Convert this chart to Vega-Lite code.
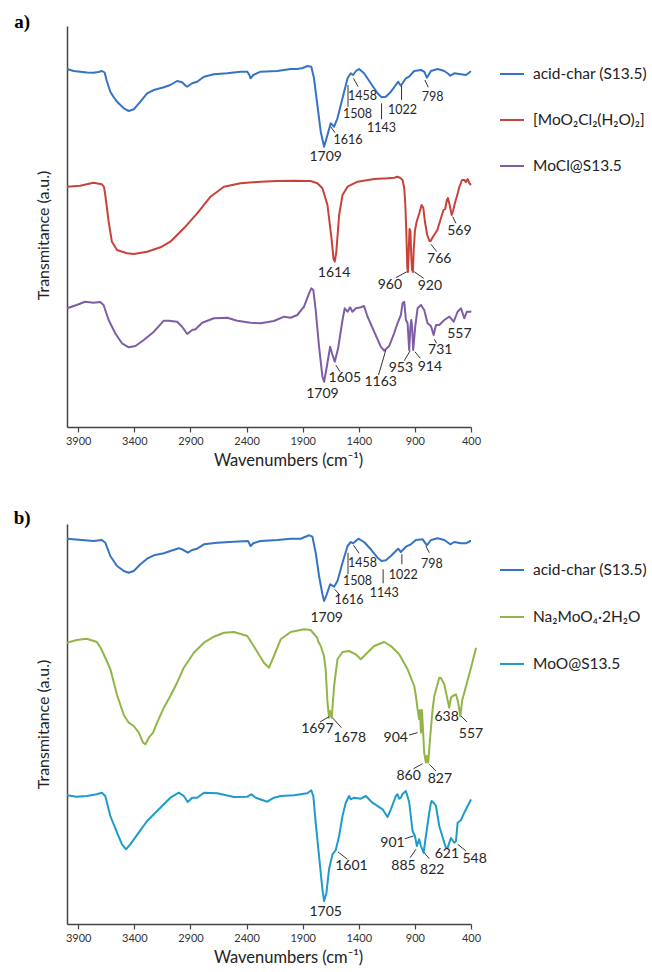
{
  "$schema": "https://vega.github.io/schema/vega-lite/v6.json",
  "padding": {"left": 13, "top": 12, "right": 0, "bottom": 0},
  "background": "white",
  "config": {
    "view": {"stroke": null},
    "font": "Lato",
    "axis": {"grid": false}
  },
  "spacing": 40,
  "resolve": {"scale": {"color": "independent", "x": "independent", "y": "independent"}, "legend": {"color": "independent"}},
  "datasets": {
    "a_curves": [
      {"s":"acid-char (S13.5)","wn":4000,"t":358},{"s":"acid-char (S13.5)","wn":3940,"t":356},{"s":"acid-char (S13.5)","wn":3883,"t":355.3},{"s":"acid-char (S13.5)","wn":3820,"t":354.5},{"s":"acid-char (S13.5)","wn":3764,"t":354.3},{"s":"acid-char (S13.5)","wn":3720,"t":355},{"s":"acid-char (S13.5)","wn":3689,"t":356},{"s":"acid-char (S13.5)","wn":3665,"t":354.5},{"s":"acid-char (S13.5)","wn":3645,"t":346},{"s":"acid-char (S13.5)","wn":3614,"t":335.3},{"s":"acid-char (S13.5)","wn":3585,"t":330},{"s":"acid-char (S13.5)","wn":3554,"t":325.3},{"s":"acid-char (S13.5)","wn":3494,"t":318.7},{"s":"acid-char (S13.5)","wn":3450,"t":316},{"s":"acid-char (S13.5)","wn":3405,"t":317.7},{"s":"acid-char (S13.5)","wn":3346,"t":325.3},{"s":"acid-char (S13.5)","wn":3286,"t":333.7},{"s":"acid-char (S13.5)","wn":3226,"t":337},{"s":"acid-char (S13.5)","wn":3137,"t":339.7},{"s":"acid-char (S13.5)","wn":3079,"t":342},{"s":"acid-char (S13.5)","wn":3019,"t":346},{"s":"acid-char (S13.5)","wn":2974,"t":344.7},{"s":"acid-char (S13.5)","wn":2940,"t":341},{"s":"acid-char (S13.5)","wn":2929,"t":340.3},{"s":"acid-char (S13.5)","wn":2885,"t":343.7},{"s":"acid-char (S13.5)","wn":2840,"t":345.3},{"s":"acid-char (S13.5)","wn":2780,"t":350.3},{"s":"acid-char (S13.5)","wn":2691,"t":352.7},{"s":"acid-char (S13.5)","wn":2572,"t":353.7},{"s":"acid-char (S13.5)","wn":2454,"t":355.3},{"s":"acid-char (S13.5)","wn":2393,"t":355.3},{"s":"acid-char (S13.5)","wn":2375,"t":352},{"s":"acid-char (S13.5)","wn":2364,"t":348.7},{"s":"acid-char (S13.5)","wn":2340,"t":352},{"s":"acid-char (S13.5)","wn":2275,"t":355.3},{"s":"acid-char (S13.5)","wn":2126,"t":356},{"s":"acid-char (S13.5)","wn":2007,"t":358},{"s":"acid-char (S13.5)","wn":1948,"t":358},{"s":"acid-char (S13.5)","wn":1900,"t":359},{"s":"acid-char (S13.5)","wn":1858,"t":361},{"s":"acid-char (S13.5)","wn":1823,"t":360.3},{"s":"acid-char (S13.5)","wn":1799,"t":348.7},{"s":"acid-char (S13.5)","wn":1769,"t":322},{"s":"acid-char (S13.5)","wn":1739,"t":295.3},{"s":"acid-char (S13.5)","wn":1709,"t":280.3},{"s":"acid-char (S13.5)","wn":1679,"t":292},{"s":"acid-char (S13.5)","wn":1650,"t":303.7},{"s":"acid-char (S13.5)","wn":1635,"t":302},{"s":"acid-char (S13.5)","wn":1620,"t":300.3},{"s":"acid-char (S13.5)","wn":1590,"t":308.7},{"s":"acid-char (S13.5)","wn":1545,"t":328.7},{"s":"acid-char (S13.5)","wn":1500,"t":348.7},{"s":"acid-char (S13.5)","wn":1471,"t":353.7},{"s":"acid-char (S13.5)","wn":1451,"t":352},{"s":"acid-char (S13.5)","wn":1425,"t":356},{"s":"acid-char (S13.5)","wn":1397,"t":358},{"s":"acid-char (S13.5)","wn":1353,"t":353.7},{"s":"acid-char (S13.5)","wn":1293,"t":343.7},{"s":"acid-char (S13.5)","wn":1233,"t":333.7},{"s":"acid-char (S13.5)","wn":1197,"t":329.7},{"s":"acid-char (S13.5)","wn":1159,"t":330.3},{"s":"acid-char (S13.5)","wn":1114,"t":335.3},{"s":"acid-char (S13.5)","wn":1070,"t":342},{"s":"acid-char (S13.5)","wn":1049,"t":345.3},{"s":"acid-char (S13.5)","wn":1025,"t":341.3},{"s":"acid-char (S13.5)","wn":980,"t":348.7},{"s":"acid-char (S13.5)","wn":951,"t":350.3},{"s":"acid-char (S13.5)","wn":906,"t":356},{"s":"acid-char (S13.5)","wn":846,"t":357},{"s":"acid-char (S13.5)","wn":817,"t":355.3},{"s":"acid-char (S13.5)","wn":793,"t":349.3},{"s":"acid-char (S13.5)","wn":757,"t":356},{"s":"acid-char (S13.5)","wn":697,"t":358},{"s":"acid-char (S13.5)","wn":638,"t":356},{"s":"acid-char (S13.5)","wn":600,"t":353},{"s":"acid-char (S13.5)","wn":585,"t":351.3},{"s":"acid-char (S13.5)","wn":549,"t":353.7},{"s":"acid-char (S13.5)","wn":489,"t":352.7},{"s":"acid-char (S13.5)","wn":445,"t":352},{"s":"acid-char (S13.5)","wn":406,"t":355.3},{"s":"acid-char (S13.5)","wn":400,"t":355},
      {"s":"[MoO₂Cl₂(H₂O)₂]","wn":4000,"t":240.3},{"s":"[MoO₂Cl₂(H₂O)₂]","wn":3883,"t":241.3},{"s":"[MoO₂Cl₂(H₂O)₂]","wn":3764,"t":244.3},{"s":"[MoO₂Cl₂(H₂O)₂]","wn":3689,"t":242.7},{"s":"[MoO₂Cl₂(H₂O)₂]","wn":3670,"t":240},{"s":"[MoO₂Cl₂(H₂O)₂]","wn":3659,"t":232},{"s":"[MoO₂Cl₂(H₂O)₂]","wn":3645,"t":220},{"s":"[MoO₂Cl₂(H₂O)₂]","wn":3629,"t":205.3},{"s":"[MoO₂Cl₂(H₂O)₂]","wn":3600,"t":185.3},{"s":"[MoO₂Cl₂(H₂O)₂]","wn":3554,"t":177},{"s":"[MoO₂Cl₂(H₂O)₂]","wn":3465,"t":173.7},{"s":"[MoO₂Cl₂(H₂O)₂]","wn":3405,"t":173},{"s":"[MoO₂Cl₂(H₂O)₂]","wn":3286,"t":175.3},{"s":"[MoO₂Cl₂(H₂O)₂]","wn":3167,"t":179.7},{"s":"[MoO₂Cl₂(H₂O)₂]","wn":3079,"t":185.3},{"s":"[MoO₂Cl₂(H₂O)₂]","wn":2959,"t":198.7},{"s":"[MoO₂Cl₂(H₂O)₂]","wn":2840,"t":213.7},{"s":"[MoO₂Cl₂(H₂O)₂]","wn":2721,"t":230.3},{"s":"[MoO₂Cl₂(H₂O)₂]","wn":2602,"t":240.3},{"s":"[MoO₂Cl₂(H₂O)₂]","wn":2454,"t":243.7},{"s":"[MoO₂Cl₂(H₂O)₂]","wn":2275,"t":245.3},{"s":"[MoO₂Cl₂(H₂O)₂]","wn":2126,"t":246},{"s":"[MoO₂Cl₂(H₂O)₂]","wn":1977,"t":246.3},{"s":"[MoO₂Cl₂(H₂O)₂]","wn":1829,"t":246},{"s":"[MoO₂Cl₂(H₂O)₂]","wn":1769,"t":243.7},{"s":"[MoO₂Cl₂(H₂O)₂]","wn":1724,"t":238.7},{"s":"[MoO₂Cl₂(H₂O)₂]","wn":1679,"t":222},{"s":"[MoO₂Cl₂(H₂O)₂]","wn":1643,"t":188.7},{"s":"[MoO₂Cl₂(H₂O)₂]","wn":1625,"t":168},{"s":"[MoO₂Cl₂(H₂O)₂]","wn":1614,"t":165.3},{"s":"[MoO₂Cl₂(H₂O)₂]","wn":1600,"t":175.3},{"s":"[MoO₂Cl₂(H₂O)₂]","wn":1575,"t":212},{"s":"[MoO₂Cl₂(H₂O)₂]","wn":1545,"t":232},{"s":"[MoO₂Cl₂(H₂O)₂]","wn":1500,"t":240.3},{"s":"[MoO₂Cl₂(H₂O)₂]","wn":1411,"t":245.3},{"s":"[MoO₂Cl₂(H₂O)₂]","wn":1263,"t":248},{"s":"[MoO₂Cl₂(H₂O)₂]","wn":1144,"t":248.7},{"s":"[MoO₂Cl₂(H₂O)₂]","wn":1084,"t":249.3},{"s":"[MoO₂Cl₂(H₂O)₂]","wn":1055,"t":250.3},{"s":"[MoO₂Cl₂(H₂O)₂]","wn":1030,"t":249},{"s":"[MoO₂Cl₂(H₂O)₂]","wn":1010,"t":247},{"s":"[MoO₂Cl₂(H₂O)₂]","wn":995,"t":239},{"s":"[MoO₂Cl₂(H₂O)₂]","wn":985,"t":222},{"s":"[MoO₂Cl₂(H₂O)₂]","wn":975,"t":190},{"s":"[MoO₂Cl₂(H₂O)₂]","wn":968,"t":160},{"s":"[MoO₂Cl₂(H₂O)₂]","wn":962,"t":155},{"s":"[MoO₂Cl₂(H₂O)₂]","wn":955,"t":175},{"s":"[MoO₂Cl₂(H₂O)₂]","wn":948,"t":198},{"s":"[MoO₂Cl₂(H₂O)₂]","wn":940,"t":196},{"s":"[MoO₂Cl₂(H₂O)₂]","wn":932,"t":170},{"s":"[MoO₂Cl₂(H₂O)₂]","wn":925,"t":157},{"s":"[MoO₂Cl₂(H₂O)₂]","wn":918,"t":155},{"s":"[MoO₂Cl₂(H₂O)₂]","wn":910,"t":178},{"s":"[MoO₂Cl₂(H₂O)₂]","wn":900,"t":196},{"s":"[MoO₂Cl₂(H₂O)₂]","wn":885,"t":205},{"s":"[MoO₂Cl₂(H₂O)₂]","wn":860,"t":214},{"s":"[MoO₂Cl₂(H₂O)₂]","wn":840,"t":222},{"s":"[MoO₂Cl₂(H₂O)₂]","wn":825,"t":219},{"s":"[MoO₂Cl₂(H₂O)₂]","wn":810,"t":205},{"s":"[MoO₂Cl₂(H₂O)₂]","wn":790,"t":192},{"s":"[MoO₂Cl₂(H₂O)₂]","wn":770,"t":186},{"s":"[MoO₂Cl₂(H₂O)₂]","wn":760,"t":186},{"s":"[MoO₂Cl₂(H₂O)₂]","wn":740,"t":190},{"s":"[MoO₂Cl₂(H₂O)₂]","wn":700,"t":197},{"s":"[MoO₂Cl₂(H₂O)₂]","wn":670,"t":208},{"s":"[MoO₂Cl₂(H₂O)₂]","wn":645,"t":217},{"s":"[MoO₂Cl₂(H₂O)₂]","wn":630,"t":218},{"s":"[MoO₂Cl₂(H₂O)₂]","wn":615,"t":227},{"s":"[MoO₂Cl₂(H₂O)₂]","wn":605,"t":229},{"s":"[MoO₂Cl₂(H₂O)₂]","wn":590,"t":222},{"s":"[MoO₂Cl₂(H₂O)₂]","wn":572,"t":212},{"s":"[MoO₂Cl₂(H₂O)₂]","wn":560,"t":216},{"s":"[MoO₂Cl₂(H₂O)₂]","wn":543,"t":224},{"s":"[MoO₂Cl₂(H₂O)₂]","wn":520,"t":233},{"s":"[MoO₂Cl₂(H₂O)₂]","wn":504,"t":240},{"s":"[MoO₂Cl₂(H₂O)₂]","wn":480,"t":247},{"s":"[MoO₂Cl₂(H₂O)₂]","wn":460,"t":247},{"s":"[MoO₂Cl₂(H₂O)₂]","wn":445,"t":245},{"s":"[MoO₂Cl₂(H₂O)₂]","wn":430,"t":248},{"s":"[MoO₂Cl₂(H₂O)₂]","wn":415,"t":244},{"s":"[MoO₂Cl₂(H₂O)₂]","wn":400,"t":242},
      {"s":"MoCl@S13.5","wn":4000,"t":118.7},{"s":"MoCl@S13.5","wn":3914,"t":122},{"s":"MoCl@S13.5","wn":3839,"t":125.3},{"s":"MoCl@S13.5","wn":3764,"t":124.3},{"s":"MoCl@S13.5","wn":3704,"t":125},{"s":"MoCl@S13.5","wn":3674,"t":122},{"s":"MoCl@S13.5","wn":3629,"t":107},{"s":"MoCl@S13.5","wn":3570,"t":93.7},{"s":"MoCl@S13.5","wn":3510,"t":83.7},{"s":"MoCl@S13.5","wn":3450,"t":79.7},{"s":"MoCl@S13.5","wn":3390,"t":81},{"s":"MoCl@S13.5","wn":3316,"t":87},{"s":"MoCl@S13.5","wn":3226,"t":95.3},{"s":"MoCl@S13.5","wn":3137,"t":106.3},{"s":"MoCl@S13.5","wn":3092,"t":106.3},{"s":"MoCl@S13.5","wn":3019,"t":105.3},{"s":"MoCl@S13.5","wn":2974,"t":100.3},{"s":"MoCl@S13.5","wn":2929,"t":93},{"s":"MoCl@S13.5","wn":2885,"t":97},{"s":"MoCl@S13.5","wn":2855,"t":97.7},{"s":"MoCl@S13.5","wn":2795,"t":104.3},{"s":"MoCl@S13.5","wn":2691,"t":108.7},{"s":"MoCl@S13.5","wn":2572,"t":109.3},{"s":"MoCl@S13.5","wn":2483,"t":106.3},{"s":"MoCl@S13.5","wn":2364,"t":104.3},{"s":"MoCl@S13.5","wn":2275,"t":103.7},{"s":"MoCl@S13.5","wn":2156,"t":106},{"s":"MoCl@S13.5","wn":2066,"t":110.3},{"s":"MoCl@S13.5","wn":2007,"t":109.3},{"s":"MoCl@S13.5","wn":1948,"t":112},{"s":"MoCl@S13.5","wn":1888,"t":120.3},{"s":"MoCl@S13.5","wn":1843,"t":133.7},{"s":"MoCl@S13.5","wn":1823,"t":138.7},{"s":"MoCl@S13.5","wn":1805,"t":137},{"s":"MoCl@S13.5","wn":1784,"t":117},{"s":"MoCl@S13.5","wn":1754,"t":80.3},{"s":"MoCl@S13.5","wn":1724,"t":50.3},{"s":"MoCl@S13.5","wn":1709,"t":45.3},{"s":"MoCl@S13.5","wn":1685,"t":60.3},{"s":"MoCl@S13.5","wn":1655,"t":80.3},{"s":"MoCl@S13.5","wn":1634,"t":72},{"s":"MoCl@S13.5","wn":1614,"t":65.3},{"s":"MoCl@S13.5","wn":1584,"t":78.7},{"s":"MoCl@S13.5","wn":1545,"t":107},{"s":"MoCl@S13.5","wn":1525,"t":118.7},{"s":"MoCl@S13.5","wn":1500,"t":115.3},{"s":"MoCl@S13.5","wn":1477,"t":119.7},{"s":"MoCl@S13.5","wn":1456,"t":115.3},{"s":"MoCl@S13.5","wn":1426,"t":118.7},{"s":"MoCl@S13.5","wn":1382,"t":119.7},{"s":"MoCl@S13.5","wn":1353,"t":121},{"s":"MoCl@S13.5","wn":1322,"t":110.3},{"s":"MoCl@S13.5","wn":1263,"t":95.3},{"s":"MoCl@S13.5","wn":1204,"t":80.3},{"s":"MoCl@S13.5","wn":1174,"t":76.3},{"s":"MoCl@S13.5","wn":1129,"t":81},{"s":"MoCl@S13.5","wn":1085,"t":93.7},{"s":"MoCl@S13.5","wn":1055,"t":103.7},{"s":"MoCl@S13.5","wn":1025,"t":112},{"s":"MoCl@S13.5","wn":1010,"t":123.7},{"s":"MoCl@S13.5","wn":995,"t":125.3},{"s":"MoCl@S13.5","wn":980,"t":107},{"s":"MoCl@S13.5","wn":965,"t":103.7},{"s":"MoCl@S13.5","wn":951,"t":77},{"s":"MoCl@S13.5","wn":940,"t":100},{"s":"MoCl@S13.5","wn":932,"t":107},{"s":"MoCl@S13.5","wn":925,"t":100},{"s":"MoCl@S13.5","wn":915,"t":77},{"s":"MoCl@S13.5","wn":897,"t":100.3},{"s":"MoCl@S13.5","wn":876,"t":118.7},{"s":"MoCl@S13.5","wn":846,"t":122},{"s":"MoCl@S13.5","wn":817,"t":117},{"s":"MoCl@S13.5","wn":787,"t":103.7},{"s":"MoCl@S13.5","wn":757,"t":101},{"s":"MoCl@S13.5","wn":733,"t":92},{"s":"MoCl@S13.5","wn":712,"t":102},{"s":"MoCl@S13.5","wn":683,"t":102},{"s":"MoCl@S13.5","wn":638,"t":107},{"s":"MoCl@S13.5","wn":593,"t":110.3},{"s":"MoCl@S13.5","wn":554,"t":105.3},{"s":"MoCl@S13.5","wn":519,"t":115.3},{"s":"MoCl@S13.5","wn":489,"t":118.7},{"s":"MoCl@S13.5","wn":460,"t":108.7},{"s":"MoCl@S13.5","wn":436,"t":115.3},{"s":"MoCl@S13.5","wn":406,"t":115.3},{"s":"MoCl@S13.5","wn":400,"t":116}
    ],
    "a_labels": [
      {"s":"acid-char (S13.5)","label":"1709","wn":1695,"t":270.3},
      {"s":"acid-char (S13.5)","label":"1616","wn":1496,"t":287},
      {"s":"acid-char (S13.5)","label":"1508","wn":1412,"t":312.7},
      {"s":"acid-char (S13.5)","label":"1458","wn":1367,"t":331.3},
      {"s":"acid-char (S13.5)","label":"1143","wn":1197,"t":298.7},
      {"s":"acid-char (S13.5)","label":"1022","wn":1010,"t":317},
      {"s":"acid-char (S13.5)","label":"798","wn":742,"t":330.3},
      {"s":"[MoO₂Cl₂(H₂O)₂]","label":"1614","wn":1620,"t":153.7},
      {"s":"[MoO₂Cl₂(H₂O)₂]","label":"960","wn":1123,"t":142},
      {"s":"[MoO₂Cl₂(H₂O)₂]","label":"920","wn":766,"t":141},
      {"s":"[MoO₂Cl₂(H₂O)₂]","label":"766","wn":683,"t":167.7},
      {"s":"[MoO₂Cl₂(H₂O)₂]","label":"569","wn":504,"t":196},
      {"s":"MoCl@S13.5","label":"1605","wn":1525,"t":49.3},
      {"s":"MoCl@S13.5","label":"1709","wn":1724,"t":32.7},
      {"s":"MoCl@S13.5","label":"1163","wn":1205,"t":45.3},
      {"s":"MoCl@S13.5","label":"953","wn":1025,"t":58.7},
      {"s":"MoCl@S13.5","label":"914","wn":766,"t":60.3},
      {"s":"MoCl@S13.5","label":"731","wn":674,"t":77},
      {"s":"MoCl@S13.5","label":"557","wn":504,"t":93}
    ],
    "a_leaders": [
      {"wn":1612,"t":294.3,"wn2":1650,"t2":300.3},
      {"wn":1496,"t":342,"wn2":1496,"t2":320.3},
      {"wn":1447,"t":348.7,"wn2":1406,"t2":340.3},
      {"wn":1197,"t":323.7,"wn2":1197,"t2":307.7},
      {"wn":1019,"t":341,"wn2":1019,"t2":327},
      {"wn":811,"t":347,"wn2":781,"t2":339.7},
      {"wn":1070,"t":149.3,"wn2":971,"t2":155.3},
      {"wn":906,"t":155.3,"wn2":822,"t2":148.7},
      {"wn":757,"t":182.7,"wn2":704,"t2":175.3},
      {"wn":563,"t":210.3,"wn2":534,"t2":203.7},
      {"wn":1605,"t":62,"wn2":1567,"t2":55.3},
      {"wn":1224,"t":52,"wn2":1159,"t2":77},
      {"wn":995,"t":66.3,"wn2":942,"t2":76.3},
      {"wn":900,"t":75.3,"wn2":852,"t2":68.7},
      {"wn":727,"t":87.7,"wn2":706,"t2":83.7}
    ],
    "b_curves": [
      {"s":"acid-char (S13.5)","wn":4000,"t":385.3},{"s":"acid-char (S13.5)","wn":3764,"t":383},{"s":"acid-char (S13.5)","wn":3689,"t":384},{"s":"acid-char (S13.5)","wn":3659,"t":381.3},{"s":"acid-char (S13.5)","wn":3614,"t":368},{"s":"acid-char (S13.5)","wn":3554,"t":358},{"s":"acid-char (S13.5)","wn":3494,"t":353},{"s":"acid-char (S13.5)","wn":3450,"t":351.3},{"s":"acid-char (S13.5)","wn":3405,"t":353},{"s":"acid-char (S13.5)","wn":3346,"t":359.7},{"s":"acid-char (S13.5)","wn":3286,"t":365.3},{"s":"acid-char (S13.5)","wn":3226,"t":368.7},{"s":"acid-char (S13.5)","wn":3137,"t":370.7},{"s":"acid-char (S13.5)","wn":3079,"t":373},{"s":"acid-char (S13.5)","wn":3004,"t":375.7},{"s":"acid-char (S13.5)","wn":2974,"t":374.7},{"s":"acid-char (S13.5)","wn":2923,"t":371.3},{"s":"acid-char (S13.5)","wn":2885,"t":374},{"s":"acid-char (S13.5)","wn":2840,"t":375.3},{"s":"acid-char (S13.5)","wn":2780,"t":379.7},{"s":"acid-char (S13.5)","wn":2661,"t":381.3},{"s":"acid-char (S13.5)","wn":2513,"t":382.3},{"s":"acid-char (S13.5)","wn":2387,"t":383},{"s":"acid-char (S13.5)","wn":2364,"t":378},{"s":"acid-char (S13.5)","wn":2340,"t":380.7},{"s":"acid-char (S13.5)","wn":2275,"t":383},{"s":"acid-char (S13.5)","wn":2126,"t":384},{"s":"acid-char (S13.5)","wn":2007,"t":385.3},{"s":"acid-char (S13.5)","wn":1918,"t":385.3},{"s":"acid-char (S13.5)","wn":1843,"t":388.7},{"s":"acid-char (S13.5)","wn":1813,"t":387.3},{"s":"acid-char (S13.5)","wn":1784,"t":371.3},{"s":"acid-char (S13.5)","wn":1754,"t":348},{"s":"acid-char (S13.5)","wn":1724,"t":329.7},{"s":"acid-char (S13.5)","wn":1709,"t":323},{"s":"acid-char (S13.5)","wn":1685,"t":329.7},{"s":"acid-char (S13.5)","wn":1655,"t":339.7},{"s":"acid-char (S13.5)","wn":1620,"t":337.3},{"s":"acid-char (S13.5)","wn":1590,"t":343},{"s":"acid-char (S13.5)","wn":1545,"t":361.3},{"s":"acid-char (S13.5)","wn":1500,"t":378},{"s":"acid-char (S13.5)","wn":1471,"t":382},{"s":"acid-char (S13.5)","wn":1451,"t":380.7},{"s":"acid-char (S13.5)","wn":1403,"t":385.3},{"s":"acid-char (S13.5)","wn":1353,"t":382},{"s":"acid-char (S13.5)","wn":1293,"t":374.7},{"s":"acid-char (S13.5)","wn":1233,"t":366.3},{"s":"acid-char (S13.5)","wn":1197,"t":363},{"s":"acid-char (S13.5)","wn":1159,"t":363.7},{"s":"acid-char (S13.5)","wn":1114,"t":368},{"s":"acid-char (S13.5)","wn":1070,"t":373},{"s":"acid-char (S13.5)","wn":1049,"t":375.3},{"s":"acid-char (S13.5)","wn":1025,"t":372},{"s":"acid-char (S13.5)","wn":980,"t":377.3},{"s":"acid-char (S13.5)","wn":936,"t":379.7},{"s":"acid-char (S13.5)","wn":891,"t":384},{"s":"acid-char (S13.5)","wn":831,"t":384.7},{"s":"acid-char (S13.5)","wn":793,"t":378.7},{"s":"acid-char (S13.5)","wn":757,"t":384},{"s":"acid-char (S13.5)","wn":697,"t":385.7},{"s":"acid-char (S13.5)","wn":638,"t":384},{"s":"acid-char (S13.5)","wn":585,"t":379.7},{"s":"acid-char (S13.5)","wn":549,"t":382},{"s":"acid-char (S13.5)","wn":489,"t":380.7},{"s":"acid-char (S13.5)","wn":445,"t":380.7},{"s":"acid-char (S13.5)","wn":406,"t":383},{"s":"acid-char (S13.5)","wn":400,"t":383},
      {"s":"Na₂MoO₄·2H₂O","wn":4000,"t":281.3},{"s":"Na₂MoO₄·2H₂O","wn":3914,"t":284},{"s":"Na₂MoO₄·2H₂O","wn":3824,"t":285.3},{"s":"Na₂MoO₄·2H₂O","wn":3734,"t":282},{"s":"Na₂MoO₄·2H₂O","wn":3700,"t":276},{"s":"Na₂MoO₄·2H₂O","wn":3674,"t":270},{"s":"Na₂MoO₄·2H₂O","wn":3614,"t":255},{"s":"Na₂MoO₄·2H₂O","wn":3554,"t":229},{"s":"Na₂MoO₄·2H₂O","wn":3494,"t":209},{"s":"Na₂MoO₄·2H₂O","wn":3450,"t":201.3},{"s":"Na₂MoO₄·2H₂O","wn":3405,"t":198},{"s":"Na₂MoO₄·2H₂O","wn":3360,"t":191.3},{"s":"Na₂MoO₄·2H₂O","wn":3322,"t":181.3},{"s":"Na₂MoO₄·2H₂O","wn":3301,"t":179.7},{"s":"Na₂MoO₄·2H₂O","wn":3271,"t":186.3},{"s":"Na₂MoO₄·2H₂O","wn":3233,"t":191.3},{"s":"Na₂MoO₄·2H₂O","wn":3197,"t":201.3},{"s":"Na₂MoO₄·2H₂O","wn":3137,"t":216.3},{"s":"Na₂MoO₄·2H₂O","wn":3079,"t":228},{"s":"Na₂MoO₄·2H₂O","wn":3019,"t":241.3},{"s":"Na₂MoO₄·2H₂O","wn":2959,"t":256.3},{"s":"Na₂MoO₄·2H₂O","wn":2870,"t":271.3},{"s":"Na₂MoO₄·2H₂O","wn":2780,"t":281.3},{"s":"Na₂MoO₄·2H₂O","wn":2691,"t":287.3},{"s":"Na₂MoO₄·2H₂O","wn":2602,"t":291.3},{"s":"Na₂MoO₄·2H₂O","wn":2513,"t":292},{"s":"Na₂MoO₄·2H₂O","wn":2393,"t":288},{"s":"Na₂MoO₄·2H₂O","wn":2319,"t":274.7},{"s":"Na₂MoO₄·2H₂O","wn":2245,"t":261.3},{"s":"Na₂MoO₄·2H₂O","wn":2200,"t":256.3},{"s":"Na₂MoO₄·2H₂O","wn":2156,"t":268},{"s":"Na₂MoO₄·2H₂O","wn":2096,"t":284.7},{"s":"Na₂MoO₄·2H₂O","wn":2007,"t":292},{"s":"Na₂MoO₄·2H₂O","wn":1888,"t":294.7},{"s":"Na₂MoO₄·2H₂O","wn":1829,"t":294},{"s":"Na₂MoO₄·2H₂O","wn":1784,"t":288},{"s":"Na₂MoO₄·2H₂O","wn":1769,"t":286},{"s":"Na₂MoO₄·2H₂O","wn":1763,"t":283},{"s":"Na₂MoO₄·2H₂O","wn":1739,"t":278},{"s":"Na₂MoO₄·2H₂O","wn":1710,"t":268},{"s":"Na₂MoO₄·2H₂O","wn":1695,"t":254.7},{"s":"Na₂MoO₄·2H₂O","wn":1679,"t":222},{"s":"Na₂MoO₄·2H₂O","wn":1665,"t":206.3},{"s":"Na₂MoO₄·2H₂O","wn":1656,"t":213},{"s":"Na₂MoO₄·2H₂O","wn":1641,"t":206.3},{"s":"Na₂MoO₄·2H₂O","wn":1620,"t":238},{"s":"Na₂MoO₄·2H₂O","wn":1590,"t":264.7},{"s":"Na₂MoO₄·2H₂O","wn":1545,"t":272},{"s":"Na₂MoO₄·2H₂O","wn":1487,"t":273},{"s":"Na₂MoO₄·2H₂O","wn":1427,"t":269.7},{"s":"Na₂MoO₄·2H₂O","wn":1382,"t":264.7},{"s":"Na₂MoO₄·2H₂O","wn":1337,"t":269.7},{"s":"Na₂MoO₄·2H₂O","wn":1263,"t":278},{"s":"Na₂MoO₄·2H₂O","wn":1174,"t":282},{"s":"Na₂MoO₄·2H₂O","wn":1114,"t":278},{"s":"Na₂MoO₄·2H₂O","wn":1040,"t":269.7},{"s":"Na₂MoO₄·2H₂O","wn":965,"t":254.7},{"s":"Na₂MoO₄·2H₂O","wn":906,"t":238},{"s":"Na₂MoO₄·2H₂O","wn":891,"t":228},{"s":"Na₂MoO₄·2H₂O","wn":876,"t":215},{"s":"Na₂MoO₄·2H₂O","wn":862,"t":205},{"s":"Na₂MoO₄·2H₂O","wn":855,"t":214},{"s":"Na₂MoO₄·2H₂O","wn":846,"t":191.3},{"s":"Na₂MoO₄·2H₂O","wn":837,"t":214},{"s":"Na₂MoO₄·2H₂O","wn":817,"t":171.3},{"s":"Na₂MoO₄·2H₂O","wn":802,"t":161.3},{"s":"Na₂MoO₄·2H₂O","wn":793,"t":168},{"s":"Na₂MoO₄·2H₂O","wn":781,"t":161.3},{"s":"Na₂MoO₄·2H₂O","wn":763,"t":188},{"s":"Na₂MoO₄·2H₂O","wn":742,"t":214.7},{"s":"Na₂MoO₄·2H₂O","wn":727,"t":228},{"s":"Na₂MoO₄·2H₂O","wn":683,"t":246.3},{"s":"Na₂MoO₄·2H₂O","wn":668,"t":246},{"s":"Na₂MoO₄·2H₂O","wn":638,"t":239.7},{"s":"Na₂MoO₄·2H₂O","wn":620,"t":230},{"s":"Na₂MoO₄·2H₂O","wn":594,"t":216.3},{"s":"Na₂MoO₄·2H₂O","wn":579,"t":226},{"s":"Na₂MoO₄·2H₂O","wn":563,"t":228},{"s":"Na₂MoO₄·2H₂O","wn":534,"t":229.7},{"s":"Na₂MoO₄·2H₂O","wn":515,"t":222},{"s":"Na₂MoO₄·2H₂O","wn":495,"t":208},{"s":"Na₂MoO₄·2H₂O","wn":478,"t":224},{"s":"Na₂MoO₄·2H₂O","wn":460,"t":231.3},{"s":"Na₂MoO₄·2H₂O","wn":430,"t":244},{"s":"Na₂MoO₄·2H₂O","wn":400,"t":256.3},{"s":"Na₂MoO₄·2H₂O","wn":355,"t":276.3},
      {"s":"MoO@S13.5","wn":4000,"t":128.7},{"s":"MoO@S13.5","wn":3914,"t":127.3},{"s":"MoO@S13.5","wn":3824,"t":128},{"s":"MoO@S13.5","wn":3734,"t":129.7},{"s":"MoO@S13.5","wn":3689,"t":131.3},{"s":"MoO@S13.5","wn":3659,"t":128},{"s":"MoO@S13.5","wn":3614,"t":108},{"s":"MoO@S13.5","wn":3554,"t":91.3},{"s":"MoO@S13.5","wn":3510,"t":79.7},{"s":"MoO@S13.5","wn":3474,"t":74.7},{"s":"MoO@S13.5","wn":3436,"t":79.7},{"s":"MoO@S13.5","wn":3361,"t":91.3},{"s":"MoO@S13.5","wn":3286,"t":103},{"s":"MoO@S13.5","wn":3257,"t":106.3},{"s":"MoO@S13.5","wn":3168,"t":116.3},{"s":"MoO@S13.5","wn":3079,"t":126.3},{"s":"MoO@S13.5","wn":3004,"t":131.3},{"s":"MoO@S13.5","wn":2959,"t":128},{"s":"MoO@S13.5","wn":2924,"t":122},{"s":"MoO@S13.5","wn":2885,"t":126.3},{"s":"MoO@S13.5","wn":2840,"t":126.3},{"s":"MoO@S13.5","wn":2780,"t":131.3},{"s":"MoO@S13.5","wn":2661,"t":130.7},{"s":"MoO@S13.5","wn":2513,"t":127},{"s":"MoO@S13.5","wn":2393,"t":127.3},{"s":"MoO@S13.5","wn":2358,"t":129.7},{"s":"MoO@S13.5","wn":2319,"t":126.3},{"s":"MoO@S13.5","wn":2215,"t":122.3},{"s":"MoO@S13.5","wn":2156,"t":126.3},{"s":"MoO@S13.5","wn":2096,"t":128},{"s":"MoO@S13.5","wn":1977,"t":128.7},{"s":"MoO@S13.5","wn":1858,"t":130.7},{"s":"MoO@S13.5","wn":1823,"t":133.7},{"s":"MoO@S13.5","wn":1805,"t":128},{"s":"MoO@S13.5","wn":1784,"t":101.3},{"s":"MoO@S13.5","wn":1754,"t":68},{"s":"MoO@S13.5","wn":1724,"t":34.7},{"s":"MoO@S13.5","wn":1709,"t":23},{"s":"MoO@S13.5","wn":1688,"t":31.3},{"s":"MoO@S13.5","wn":1665,"t":54.7},{"s":"MoO@S13.5","wn":1634,"t":69.7},{"s":"MoO@S13.5","wn":1605,"t":74},{"s":"MoO@S13.5","wn":1575,"t":88},{"s":"MoO@S13.5","wn":1545,"t":108},{"s":"MoO@S13.5","wn":1516,"t":121.3},{"s":"MoO@S13.5","wn":1486,"t":128},{"s":"MoO@S13.5","wn":1471,"t":124.7},{"s":"MoO@S13.5","wn":1441,"t":126.3},{"s":"MoO@S13.5","wn":1382,"t":125.3},{"s":"MoO@S13.5","wn":1337,"t":128},{"s":"MoO@S13.5","wn":1278,"t":121.3},{"s":"MoO@S13.5","wn":1188,"t":114.7},{"s":"MoO@S13.5","wn":1144,"t":107},{"s":"MoO@S13.5","wn":1114,"t":114.7},{"s":"MoO@S13.5","wn":1070,"t":128},{"s":"MoO@S13.5","wn":1055,"t":129.7},{"s":"MoO@S13.5","wn":1040,"t":125.3},{"s":"MoO@S13.5","wn":1025,"t":126.3},{"s":"MoO@S13.5","wn":1010,"t":130},{"s":"MoO@S13.5","wn":980,"t":133},{"s":"MoO@S13.5","wn":951,"t":122},{"s":"MoO@S13.5","wn":921,"t":93},{"s":"MoO@S13.5","wn":900,"t":88},{"s":"MoO@S13.5","wn":882,"t":78},{"s":"MoO@S13.5","wn":862,"t":84.7},{"s":"MoO@S13.5","wn":846,"t":78},{"s":"MoO@S13.5","wn":822,"t":71.3},{"s":"MoO@S13.5","wn":802,"t":88},{"s":"MoO@S13.5","wn":772,"t":111.3},{"s":"MoO@S13.5","wn":757,"t":121.3},{"s":"MoO@S13.5","wn":751,"t":123},{"s":"MoO@S13.5","wn":733,"t":121.3},{"s":"MoO@S13.5","wn":712,"t":118},{"s":"MoO@S13.5","wn":683,"t":98},{"s":"MoO@S13.5","wn":638,"t":81.3},{"s":"MoO@S13.5","wn":623,"t":76.3},{"s":"MoO@S13.5","wn":608,"t":76.3},{"s":"MoO@S13.5","wn":579,"t":86},{"s":"MoO@S13.5","wn":549,"t":81.3},{"s":"MoO@S13.5","wn":534,"t":83},{"s":"MoO@S13.5","wn":519,"t":101.3},{"s":"MoO@S13.5","wn":489,"t":104},{"s":"MoO@S13.5","wn":460,"t":111.3},{"s":"MoO@S13.5","wn":430,"t":118},{"s":"MoO@S13.5","wn":406,"t":123},{"s":"MoO@S13.5","wn":400,"t":124.7}
    ],
    "b_labels": [
      {"s":"acid-char (S13.5)","label":"1709","wn":1686,"t":306.3},
      {"s":"acid-char (S13.5)","label":"1616","wn":1487,"t":323.7},
      {"s":"acid-char (S13.5)","label":"1508","wn":1412,"t":343},
      {"s":"acid-char (S13.5)","label":"1458","wn":1367,"t":361.3},
      {"s":"acid-char (S13.5)","label":"1143","wn":1174,"t":331.3},
      {"s":"acid-char (S13.5)","label":"1022","wn":1004,"t":349},
      {"s":"acid-char (S13.5)","label":"798","wn":748,"t":360.3},
      {"s":"Na₂MoO₄·2H₂O","label":"1697","wn":1769,"t":195.3},
      {"s":"Na₂MoO₄·2H₂O","label":"1678","wn":1480,"t":185.7},
      {"s":"Na₂MoO₄·2H₂O","label":"904","wn":1070,"t":185.7},
      {"s":"Na₂MoO₄·2H₂O","label":"860","wn":956,"t":148},
      {"s":"Na₂MoO₄·2H₂O","label":"827","wn":677,"t":144.7},
      {"s":"Na₂MoO₄·2H₂O","label":"638","wn":617,"t":207},
      {"s":"Na₂MoO₄·2H₂O","label":"557","wn":400,"t":190.3},
      {"s":"MoO@S13.5","label":"1601","wn":1465,"t":58},
      {"s":"MoO@S13.5","label":"1705","wn":1695,"t":12},
      {"s":"MoO@S13.5","label":"901","wn":1099,"t":81.3},
      {"s":"MoO@S13.5","label":"885","wn":1001,"t":58},
      {"s":"MoO@S13.5","label":"822","wn":745,"t":54.5},
      {"s":"MoO@S13.5","label":"621","wn":615,"t":70},
      {"s":"MoO@S13.5","label":"548","wn":368,"t":65.3}
    ],
    "b_leaders": [
      {"wn":1614,"t":334.7,"wn2":1567,"t2":328.7},
      {"wn":1496,"t":371.3,"wn2":1496,"t2":349.7},
      {"wn":1447,"t":378.7,"wn2":1397,"t2":370.7},
      {"wn":1183,"t":354.7,"wn2":1183,"t2":340.7},
      {"wn":1016,"t":369.7,"wn2":1016,"t2":359.7},
      {"wn":802,"t":378,"wn2":772,"t2":371.3},
      {"wn":1745,"t":202,"wn2":1665,"t2":207.3},
      {"wn":1635,"t":206.3,"wn2":1554,"t2":196.3},
      {"wn":951,"t":189,"wn2":876,"t2":191.3},
      {"wn":912,"t":155.3,"wn2":831,"t2":160.3},
      {"wn":772,"t":159.7,"wn2":712,"t2":153},
      {"wn":489,"t":208,"wn2":436,"t2":202},
      {"wn":1585,"t":72,"wn2":1501,"t2":64.7},
      {"wn":989,"t":85.3,"wn2":912,"t2":88},
      {"wn":942,"t":66.3,"wn2":891,"t2":74.7},
      {"wn":817,"t":71.3,"wn2":772,"t2":65.3},
      {"wn":519,"t":79.7,"wn2":445,"t2":73}
    ],
    "a_letter": [{"label":"a)","wn":4400,"t":405}],
    "b_letter": [{"label":"b)","wn":4400,"t":406}]
  },
  "vconcat": [
    {
      "width": 404,
      "height": 401,
      "encoding": {
        "x": {"field": "wn", "type": "quantitative",
          "scale": {"domain": [400, 4000], "reverse": true, "nice": false, "zero": false},
          "axis": {"values": [3900, 3400, 2900, 2400, 1900, 1400, 900, 400], "format": "d", "title": "Wavenumbers (cm⁻¹)", "grid": false, "tickSize": 5, "tickColor": "#444", "tickWidth": 1.2, "domainColor": "#444", "domainWidth": 1.5, "labelFont": "Lato", "labelFontSize": 11, "labelColor": "#333", "labelPadding": 3, "labelFlush": false, "labelOverlap": false, "titleFont": "Lato", "titleFontSize": 16.5, "titleFontWeight": "normal", "titleColor": "#222", "titlePadding": 6, "titleX": 221}},
        "y": {"field": "t", "type": "quantitative",
          "scale": {"domain": [0, 401], "nice": false, "zero": false},
          "axis": {"title": "Transmitance (a.u.)", "ticks": false, "labels": false, "grid": false, "domainColor": "#444", "domainWidth": 1.5, "titleFont": "Lato", "titleFontSize": 16, "titleFontWeight": "normal", "titleColor": "#222", "titlePadding": 16, "titleY": 209}}
      },
      "layer": [
        {
          "data": {"name": "a_curves"},
          "mark": {"type": "line", "strokeWidth": 2, "strokeJoin": "round"},
          "encoding": {
            "color": {"field": "s", "type": "nominal",
              "scale": {"domain": ["acid-char (S13.5)", "[MoO₂Cl₂(H₂O)₂]", "MoCl@S13.5"], "range": ["#3573c4", "#c8423a", "#7d5ea6"]},
              "legend": {"title": null, "orient": "none", "legendX": 432, "legendY": 35, "symbolType": "stroke", "symbolSize": 576, "symbolStrokeWidth": 2, "labelFont": "Lato", "labelFontSize": 15.5, "labelColor": "#222", "labelOffset": 8, "labelLimit": 300, "rowPadding": 24}}
          }
        },
        {
          "data": {"name": "a_leaders"},
          "mark": {"type": "rule", "color": "#333", "strokeWidth": 1},
          "encoding": {"x2": {"field": "wn2"}, "y2": {"field": "t2"}}
        },
        {
          "data": {"name": "a_labels"},
          "mark": {"type": "text", "font": "Lato", "color": "#262626", "baseline": "middle", "align": "center"},
          "encoding": {
            "text": {"field": "label"},
            "size": {"condition": {"test": "datum.s === 'acid-char (S13.5)' && datum.label !== '1709'", "value": 12.5}, "value": 14}
          }
        },
        {
          "data": {"name": "a_letter"},
          "mark": {"type": "text", "font": "Liberation Serif", "fontWeight": "bold", "fontSize": 19, "color": "#000", "baseline": "middle", "align": "center"},
          "encoding": {"text": {"field": "label"}}
        }
      ]
    },
    {
      "width": 404,
      "height": 400,
      "encoding": {
        "x": {"field": "wn", "type": "quantitative",
          "scale": {"domain": [400, 4000], "reverse": true, "nice": false, "zero": false},
          "axis": {"values": [3900, 3400, 2900, 2400, 1900, 1400, 900, 400], "format": "d", "title": "Wavenumbers (cm⁻¹)", "grid": false, "tickSize": 5, "tickColor": "#444", "tickWidth": 1.2, "domainColor": "#444", "domainWidth": 1.5, "labelFont": "Lato", "labelFontSize": 11, "labelColor": "#333", "labelPadding": 3, "labelFlush": false, "labelOverlap": false, "titleFont": "Lato", "titleFontSize": 16.5, "titleFontWeight": "normal", "titleColor": "#222", "titlePadding": 6, "titleX": 221}},
        "y": {"field": "t", "type": "quantitative",
          "scale": {"domain": [0, 400], "nice": false, "zero": false},
          "axis": {"title": "Transmitance (a.u.)", "ticks": false, "labels": false, "grid": false, "domainColor": "#444", "domainWidth": 1.5, "titleFont": "Lato", "titleFontSize": 16, "titleFontWeight": "normal", "titleColor": "#222", "titlePadding": 16}}
      },
      "layer": [
        {
          "data": {"name": "b_curves"},
          "mark": {"type": "line", "strokeWidth": 2, "strokeJoin": "round"},
          "encoding": {
            "color": {"field": "s", "type": "nominal",
              "scale": {"domain": ["acid-char (S13.5)", "Na₂MoO₄·2H₂O", "MoO@S13.5"], "range": ["#3573c4", "#93b548", "#1e9acb"]},
              "legend": {"title": null, "orient": "none", "legendX": 432, "legendY": 33, "symbolType": "stroke", "symbolSize": 576, "symbolStrokeWidth": 2, "labelFont": "Lato", "labelFontSize": 15.5, "labelColor": "#222", "labelOffset": 8, "labelLimit": 300, "rowPadding": 25}}
          }
        },
        {
          "data": {"name": "b_leaders"},
          "mark": {"type": "rule", "color": "#333", "strokeWidth": 1},
          "encoding": {"x2": {"field": "wn2"}, "y2": {"field": "t2"}}
        },
        {
          "data": {"name": "b_labels"},
          "mark": {"type": "text", "font": "Lato", "color": "#262626", "baseline": "middle", "align": "center"},
          "encoding": {
            "text": {"field": "label"},
            "size": {"condition": {"test": "datum.s === 'acid-char (S13.5)' && datum.label !== '1709'", "value": 12.5}, "value": 14}
          }
        },
        {
          "data": {"name": "b_letter"},
          "mark": {"type": "text", "font": "Liberation Serif", "fontWeight": "bold", "fontSize": 19, "color": "#000", "baseline": "middle", "align": "center"},
          "encoding": {"text": {"field": "label"}}
        }
      ]
    }
  ]
}
